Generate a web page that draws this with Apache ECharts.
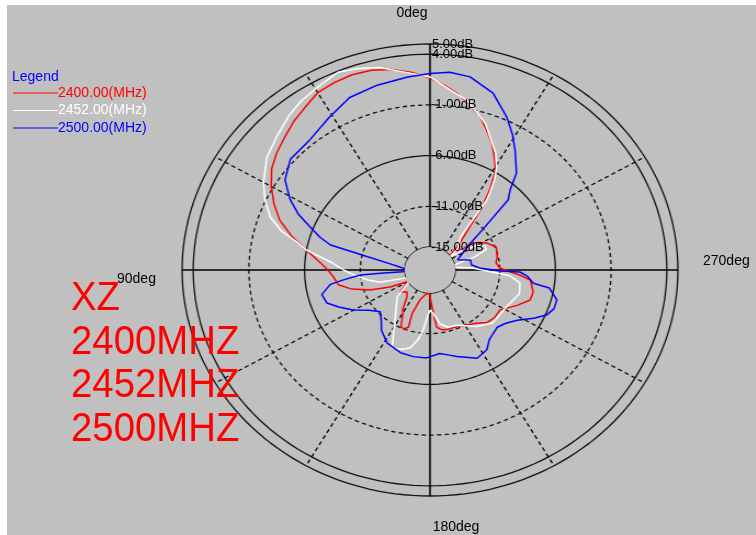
<!DOCTYPE html>
<html><head><meta charset="utf-8">
<script src="https://cdn.jsdelivr.net/npm/echarts@6/dist/echarts.min.js"></script>
<style>
html,body{margin:0;padding:0;background:#fff;width:756px;height:535px;overflow:hidden;}
#bg{position:absolute;left:7px;top:5px;width:749px;height:530px;background:#c0c0c0;}
#polar{position:absolute;left:0;top:0;width:756px;height:535px;transform:scaleX(1.097);transform-origin:430px 270px;}
#txt{position:absolute;left:0;top:0;width:756px;height:535px;pointer-events:none;}
</style></head><body>
<div id="bg"></div><div id="polar"></div><div id="txt"></div>
<script>
// ---- data ----
const seriesNames = ['2400.00(MHz)', '2452.00(MHz)', '2500.00(MHz)'];
const seriesColors = ['#ff0000', '#ffffff', '#0000ff'];

const angles2400 = [0,5,10,15,20,25,30,35,40,45,50,55,60,65,70,75,80,85,90,95,100,105,110,115,120,129,136,142,148,150,155,158,161,159.5,163,170,178,183,186,190,194.5,203,211.5,218,224.5,231,238,246,251.8,256.8,263.7,266.5,271.8,277,282,290.6,297.4,301,304.7,306,308,315,320,323,326,329,333,336,340,343.4,348,352,356,360];
const gain2400 = [1.65,2.3,2.8,3.1,3.2,3.1,2.9,2.3,1.8,1.2,0.7,0.1,-0.8,-1.8,-2.9,-4.4,-6.0,-7.2,-8.1,-8.6,-8.9,-10.0,-11.5,-13.3,-15,-13.8,-14.3,-13.9,-12.6,-12.4,-11.1,-11.0,-11.3,-12.7,-14.2,-14.8,-15,-13.6,-11.6,-11.3,-11.2,-11.2,-10.9,-10.6,-10.0,-9.8,-9.85,-8.7,-7.8,-7.75,-8.2,-9.2,-11.0,-11.3,-11.1,-10.9,-11.5,-12.0,-12.6,-14.3,-15,-13.4,-11.7,-9.5,-7.6,-5.8,-4.6,-3.6,-2.5,-1.5,-0.5,0.3,1.0,1.65];

const angles2452 = [0,7,13,18,23,29,35,40,46,53,60,65,70,74,77,80,85.5,90,94,100,105,110,122,132,146,153.3,156,161.4,167,171,174,177.5,180,183.6,189.6,196,204,217,227,242,254,261,265.5,273,277,283,288,292,296,300,304,306,310,320,322,323.5,325,327,329.4,333,337.6,341,344.7,349,354.3,360];
const gain2452 = [1.75,2.4,3.2,3.6,3.9,3.4,3.0,2.5,1.8,1.1,0.0,-0.9,-2.0,-3.4,-5.0,-6.0,-8.5,-9.5,-10.4,-11.6,-12.6,-15,-15,-13.3,-11.7,-9.9,-8.9,-9.0,-9.4,-10.3,-11.3,-12.8,-13.3,-13.0,-11.9,-11.4,-11.3,-10.3,-9.6,-9.5,-8.9,-9.1,-10.1,-13.4,-15,-15,-13,-11.8,-11.8,-12.5,-14,-15,-14,-13,-11.3,-8.7,-7.8,-6.6,-5.5,-4.3,-3.1,-2.0,-1.2,-0.2,0.6,1.75];

const angles2500 = [0,6,14.6,23,31,40,49,55.7,61,65,68.5,72,74.6,76.7,80,84,88,94,94.2,94.5,97,99,104,109.3,114,119.7,126,132.6,139,143.7,151.9,162,170,178,186,190,195.8,206,213,218,227,232,237.7,243,247,251,255.5,260.6,262,266,268.6,269,272.5,277.5,285,292,296,305.5,310.3,314.6,317.6,320.9,327.1,331,335.4,342,349.3,354.8,360];
const gain2500 = [2.1,1.85,1.55,1.2,0.3,-0.5,-0.65,-1.5,-2.9,-4.2,-5.7,-6.9,-8.0,-11.3,-13.5,-14.6,-15,-14.8,-12.8,-11,-9.5,-8.2,-7.25,-7.45,-8.3,-9.3,-10.5,-11.2,-10.6,-9.9,-9.1,-8.7,-8.6,-8.6,-9.0,-8.8,-8.4,-7.6,-7.9,-8.6,-9.0,-8.7,-8.0,-6.8,-5.9,-5.5,-5.5,-6.4,-7.9,-8.5,-9.2,-11.0,-12.8,-13.5,-13.5,-14.6,-14.6,-12.9,-11.0,-7.4,-6.6,-4.95,-3.2,-2.0,-0.7,1.05,2.1,2.3,2.1];

const ringValues = [5, 4, -1, -6, -11, -15];
const ringDashed = [false, false, true, false, true, false];
const ringLabels = ['5.00dB', '4.00dB', '-1.00dB', '-6.00dB', '-11.00dB', '-15.00dB'];
const axisAngles = [0, 90, 180, 270];
const dirLabels = ['0deg', '90deg', '180deg', '270deg'];
const legendTitle = 'Legend';
const noteLines = ['XZ', '2400MHZ', '2452MHZ', '2500MHZ'];
const rMin = -15, rMax = 5, axisMax = 5.5;

// ---- polar chart ----
const chart = echarts.init(document.getElementById('polar'), null, {renderer: 'canvas'});
const sweep = [];
for (let a = 0; a <= 360; a += 2) sweep.push(a);

const series = [];
ringValues.forEach((v, i) => {
  series.push({
    type: 'line', coordinateSystem: 'polar', silent: true, symbol: 'none', z: 1, clip: false,
    data: sweep.map(a => [v, a]),
    lineStyle: {color: '#111', width: 1.3, type: ringDashed[i] ? [4, 3] : 'solid'}
  });
});
axisAngles.forEach(a => {
  series.push({
    type: 'line', coordinateSystem: 'polar', silent: true, symbol: 'none', z: 2, clip: false,
    data: [[rMin, a], [rMax, a]],
    lineStyle: {color: '#000', width: 1.5}
  });
});
const sets = [[angles2400, gain2400], [angles2452, gain2452], [angles2500, gain2500]];
sets.forEach((s, i) => {
  series.push({
    name: seriesNames[i], type: 'line', coordinateSystem: 'polar', symbol: 'none', z: 5,
    data: s[0].map((a, k) => [s[1][k], a]),
    lineStyle: {color: seriesColors[i], width: 1.5}
  });
});

const pxPerDb = 203 / (rMax - rMin);
chart.setOption({
  animation: false,
  backgroundColor: 'transparent',
  polar: {center: [430, 270], radius: [23, 23 + (axisMax - rMin) * pxPerDb]},
  angleAxis: {
    type: 'value', min: 0, max: 360, interval: 30, startAngle: 90, clockwise: false,
    axisLine: {show: false}, axisTick: {show: false}, axisLabel: {show: false},
    splitLine: {show: false}
  },
  radiusAxis: {
    type: 'value', min: rMin, max: axisMax,
    axisLine: {show: false}, axisTick: {show: false}, axisLabel: {show: false},
    splitLine: {show: false}
  },
  series: series
});

// dashed spokes every 30 degrees (grid), drawn from inner circle to outer ring
const spokes = [];
for (let a = 30; a < 360; a += 30) {
  if (a % 90 === 0) continue;
  spokes.push({
    type: 'line', coordinateSystem: 'polar', silent: true, symbol: 'none', z: 1, clip: false,
    data: [[rMin, a], [rMax, a]],
    lineStyle: {color: '#000', width: 1.3, type: [4, 3]}
  });
}
chart.setOption({series: series.concat(spokes)});

// ---- text overlay ----
function ringY(v) {
  try {
    const p = chart.convertToPixel({polarIndex: 0}, [v, 0]);
    if (p && isFinite(p[1])) return p[1];
  } catch (e) {}
  return 270 - (23 + (v - rMin) * pxPerDb);
}
const txt = echarts.init(document.getElementById('txt'), null, {renderer: 'canvas'});
const g = [];
const sf = '14px "Liberation Sans", Arial, sans-serif';
ringLabels.forEach((t, i) => {
  g.push({type: 'text', x: ringValues[i] >= 0 ? 432 : 431, y: ringY(ringValues[i]),
    style: {text: t, fill: '#000', font: '13px "Liberation Sans", Arial, sans-serif', align: 'left', verticalAlign: 'middle'}});
});
const dirPos = [[412, 13, 'center'], [117, 279, 'left'], [456, 527, 'center'], [703, 261, 'left']];
dirLabels.forEach((t, i) => {
  g.push({type: 'text', x: dirPos[i][0], y: dirPos[i][1],
    style: {text: t, fill: '#000', font: sf, align: dirPos[i][2], verticalAlign: 'middle'}});
});
g.push({type: 'text', x: 12, y: 77, style: {text: legendTitle, fill: '#0000ff', font: sf, align: 'left', verticalAlign: 'middle'}});
seriesNames.forEach((n, i) => {
  const y = 93 + i * 17.5;
  g.push({type: 'line', shape: {x1: 13, y1: y, x2: 58, y2: y}, style: {stroke: seriesColors[i], lineWidth: 1}});
  g.push({type: 'text', x: 58, y: y, style: {text: n, fill: seriesColors[i], font: sf, align: 'left', verticalAlign: 'middle'}});
});
noteLines.forEach((t, i) => {
  g.push({type: 'text', x: 71, y: 299 + i * 43.5, scaleX: 0.935, originX: 0,
    style: {text: t, fill: '#ff0000', font: '41px "Liberation Sans", Arial, sans-serif', align: 'left', verticalAlign: 'middle'}});
});
txt.setOption({animation: false, backgroundColor: 'transparent', graphic: g});
</script>
</body></html>
